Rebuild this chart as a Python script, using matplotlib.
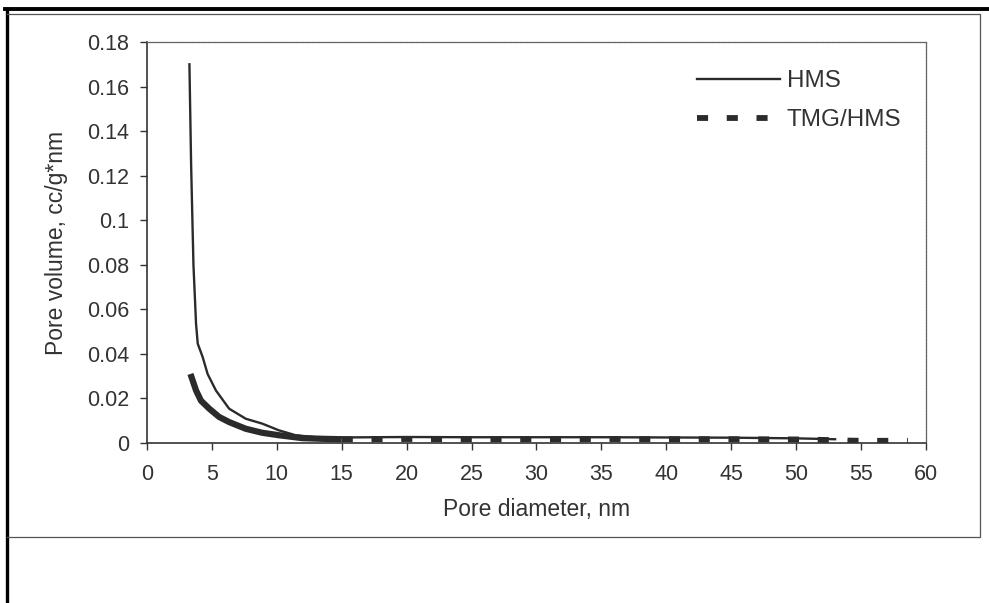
import numpy as np
import matplotlib.pyplot as plt
from matplotlib.lines import Line2D

plt.rcParams['font.family'] = ['Liberation Sans', 'DejaVu Sans']

# data
hms_x = [3.27, 3.40, 3.58, 3.78, 3.91, 4.29, 4.67, 5.31, 6.33, 7.61, 8.88, 10.16, 11.44, 12.97,
         15, 20, 25, 30, 35, 40, 45, 50, 53]
hms_y = [0.170, 0.125, 0.080, 0.0535, 0.0446, 0.0386, 0.031, 0.0236, 0.0154, 0.0109, 0.0087, 0.0057,
         0.0035, 0.0026, 0.0025, 0.0027, 0.0026, 0.0026, 0.0026, 0.0025, 0.0024, 0.0021, 0.0017]

tmg_x = [3.35, 3.78, 4.16, 4.8, 5.56, 6.33, 7.61, 8.88, 10.16, 11.95, 13.5, 15]
tmg_y = [0.031, 0.0236, 0.019, 0.0154, 0.0117, 0.0094, 0.0064, 0.0046, 0.0035, 0.0022, 0.0019, 0.0017]

tmg_tail_x = [15, 20, 25, 30, 35, 40, 45, 50, 53, 54, 55, 56, 57, 58, 58.6]
tmg_tail_y = [0.0017, 0.0018, 0.0017, 0.0017, 0.0018, 0.0017, 0.0017, 0.0016, 0.0013, 0.0011, 0.001,
              0.001, 0.001, 0.001, 0.001]

x_ticks = list(range(0, 61, 5))
y_ticks = [0, 0.02, 0.04, 0.06, 0.08, 0.1, 0.12, 0.14, 0.16, 0.18]
y_tick_labels = ['0', '0.02', '0.04', '0.06', '0.08', '0.1', '0.12', '0.14', '0.16', '0.18']

ink = '#2b2b2b'
txt = '#333333'

fig = plt.figure(figsize=(9.89, 6.03), dpi=100)
ax = fig.add_axes([0.1486, 0.2653, 0.7877, 0.665])

ax.plot(tmg_x, tmg_y, color=ink, lw=4.5, solid_capstyle='butt')
ax.plot(tmg_tail_x, tmg_tail_y, color=ink, lw=4.2, dashes=(1.9, 3.2), label='TMG/HMS')
ax.plot(hms_x, hms_y, color=ink, lw=1.7, label='HMS')

ax.set_xlim(0, 60)
ax.set_ylim(0, 0.18)
ax.set_xticks(x_ticks)
ax.set_yticks(y_ticks)
ax.set_yticklabels(y_tick_labels)
ax.tick_params(direction='out', length=5, width=1, color=txt, labelsize=15.5, labelcolor=txt)
ax.tick_params(axis='y', pad=8)
ax.tick_params(axis='x', pad=10)

for side in ['left', 'bottom']:
    ax.spines[side].set_color(txt)
    ax.spines[side].set_linewidth(1.2)
for side in ['top', 'right']:
    ax.spines[side].set_color('#666666')
    ax.spines[side].set_linewidth(0.9)
    ax.spines[side].set_linestyle((0, (2, 0.6)))

ax.set_xlabel('Pore diameter, nm', fontsize=16.5, color=txt, va='top')
ax.set_ylabel('Pore volume, cc/g*nm', fontsize=16.5, color=txt)
ax.xaxis.set_label_coords(0.5, -0.137)
ax.yaxis.set_label_coords(-0.101, 0.5)

h, l = ax.get_legend_handles_labels()
leg = ax.legend([h[1], h[0]], [l[1], l[0]], loc='upper left', frameon=False,
                bbox_to_anchor=(697 / 989, 1 - 70 / 603), bbox_transform=fig.transFigure,
                fontsize=17.5, handlelength=3.4, handletextpad=0.3, labelspacing=0.7,
                borderpad=0, borderaxespad=0)
for t in leg.get_texts():
    t.set_color(txt)

# scan frame lines around the chart
W, H = 989, 603
def fx(p):
    return p / W
def fy(p):
    return 1 - p / H

fig.add_artist(Line2D([fx(5), 1], [fy(9), fy(9)], color='black', lw=2.8, transform=fig.transFigure))
fig.add_artist(Line2D([fx(7), fx(7)], [0, fy(9)], color='black', lw=2.4, transform=fig.transFigure))
fig.add_artist(Line2D([fx(7), fx(980), fx(980), fx(7)], [fy(14), fy(14), fy(537), fy(537)],
                      color='#555555', lw=0.9, transform=fig.transFigure))

fig.savefig('out.png', dpi=100)
